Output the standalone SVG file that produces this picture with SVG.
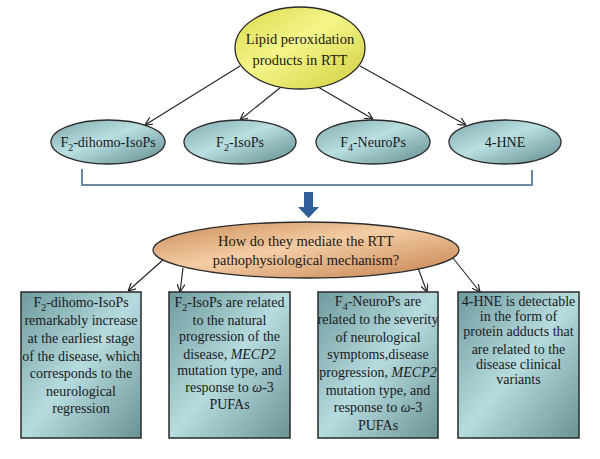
<svg xmlns="http://www.w3.org/2000/svg" width="600" height="459" viewBox="0 0 600 459">
<defs>
<linearGradient id="gTeal" x1="0" y1="0" x2="1" y2="1">
<stop offset="0" stop-color="#7ea6aa"/>
<stop offset="0.45" stop-color="#b9dfe1"/>
<stop offset="1" stop-color="#5f8a8e"/>
</linearGradient>
<linearGradient id="gBox" x1="0" y1="0" x2="1" y2="1">
<stop offset="0" stop-color="#6e9a9e"/>
<stop offset="0.5" stop-color="#b7dcdf"/>
<stop offset="1" stop-color="#6a9295"/>
</linearGradient>
<linearGradient id="gYellow" x1="0" y1="0" x2="1" y2="1">
<stop offset="0" stop-color="#d9d94c"/>
<stop offset="0.45" stop-color="#f5f58a"/>
<stop offset="1" stop-color="#cfcf3e"/>
</linearGradient>
<linearGradient id="gOrange" x1="0" y1="0" x2="1" y2="1">
<stop offset="0" stop-color="#c98a58"/>
<stop offset="0.45" stop-color="#f4cda4"/>
<stop offset="1" stop-color="#c3804e"/>
</linearGradient>
<marker id="arr" viewBox="0 0 10 10" refX="10" refY="5" markerWidth="8" markerHeight="8" orient="auto" markerUnits="userSpaceOnUse">
<path d="M0,0 L10,5 L0,10" fill="none" stroke="#222" stroke-width="1.5"/>
</marker>
</defs>
<style>
text{font-family:"Liberation Serif","Times New Roman",serif;fill:#1a1a1a;text-anchor:middle}
.e{stroke:#2a2a2a;stroke-width:1.3}
.b{fill:url(#gBox);stroke:#2a2a2a;stroke-width:1.5}
.c{fill:none;stroke:#222;stroke-width:1.1}
.t{font-size:14px}
.lab{font-size:14.5px}
.it{font-style:italic}
</style>
<rect width="600" height="459" fill="#ffffff"/>
<g id="connectors">
<line class="c" x1="240" y1="66" x2="145" y2="125" marker-end="url(#arr)"/>
<line class="c" x1="281" y1="87" x2="240" y2="120" marker-end="url(#arr)"/>
<line class="c" x1="318" y1="87" x2="373" y2="119" marker-end="url(#arr)"/>
<line class="c" x1="360" y1="66" x2="466" y2="125" marker-end="url(#arr)"/>
<polyline points="82,169 82,185 532,185 532,170" fill="none" stroke="#6d87a6" stroke-width="2"/>
<polygon points="304,192 313,192 313,207 319,207 308.5,218 298,207 304,207" fill="#2e5f99"/>
<line class="c" x1="164" y1="259" x2="128" y2="291" marker-end="url(#arr)"/>
<line class="c" x1="183" y1="268" x2="180" y2="292" marker-end="url(#arr)"/>
<line class="c" x1="418" y1="268" x2="427" y2="292" marker-end="url(#arr)"/>
<line class="c" x1="453" y1="258" x2="480" y2="292" marker-end="url(#arr)"/>
</g>
<g id="top">
<ellipse class="e" cx="300" cy="48" rx="65" ry="41" fill="url(#gYellow)"/>
<text class="lab" x="300" y="44">Lipid peroxidation</text>
<text class="lab" x="300" y="65">products in RTT</text>
</g>
<g id="n1">
<ellipse class="e" cx="108" cy="142" rx="57" ry="22" fill="url(#gTeal)"/>
<text class="t" x="108" y="147">F<tspan font-size="10" dy="4">2</tspan><tspan dy="-4">-dihomo-IsoPs</tspan></text>
</g>
<g id="n2">
<ellipse class="e" cx="240" cy="142" rx="56" ry="22" fill="url(#gTeal)"/>
<text class="t" x="240" y="147">F<tspan font-size="10" dy="4">2</tspan><tspan dy="-4">-IsoPs</tspan></text>
</g>
<g id="n3">
<ellipse class="e" cx="373" cy="142" rx="57" ry="22" fill="url(#gTeal)"/>
<text class="t" x="373" y="147">F<tspan font-size="10" dy="4">4</tspan><tspan dy="-4">-NeuroPs</tspan></text>
</g>
<g id="n4">
<ellipse class="e" cx="505" cy="142" rx="56" ry="22" fill="url(#gTeal)"/>
<text class="t" x="505" y="147">4-HNE</text>
</g>
<g id="q">
<ellipse class="e" cx="306" cy="250" rx="153" ry="28" fill="url(#gOrange)"/>
<text class="lab" x="306" y="246">How do they mediate the RTT</text>
<text class="lab" x="306" y="265">pathophysiological mechanism?</text>
</g>
<g id="b1">
<rect class="b" x="21" y="292" width="120" height="146"/>
<text class="t" x="81" y="307">F<tspan font-size="10" dy="4">2</tspan><tspan dy="-4">-dihomo-IsoPs</tspan></text>
<text class="t" x="81" y="325">remarkably increase</text>
<text class="t" x="81" y="343">at the earliest stage</text>
<text class="t" x="81" y="361">of the disease, which</text>
<text class="t" x="81" y="378">corresponds to the</text>
<text class="t" x="81" y="396">neurological</text>
<text class="t" x="81" y="413">regression</text>
</g>
<g id="b2">
<rect class="b" x="169" y="292" width="121" height="146"/>
<text class="t" x="229.5" y="307">F<tspan font-size="10" dy="4">2</tspan><tspan dy="-4">-IsoPs are related</tspan></text>
<text class="t" x="229.5" y="325">to the natural</text>
<text class="t" x="229.5" y="341">progression of the</text>
<text class="t" x="229.5" y="359">disease, <tspan class="it">MECP2</tspan></text>
<text class="t" x="229.5" y="375">mutation type, and</text>
<text class="t" x="229.5" y="392">response to <tspan class="it">ω</tspan>-3</text>
<text class="t" x="229.5" y="409">PUFAs</text>
</g>
<g id="b3">
<rect class="b" x="318" y="292" width="120" height="146"/>
<text class="t" x="378" y="306">F<tspan font-size="10" dy="4">4</tspan><tspan dy="-4">-NeuroPs are</tspan></text>
<text class="t" x="378" y="324">related to the severity</text>
<text class="t" x="378" y="342">of neurological</text>
<text class="t" x="378" y="359">symptoms,disease</text>
<text class="t" x="378" y="377">progression, <tspan class="it">MECP2</tspan></text>
<text class="t" x="378" y="395">mutation type, and</text>
<text class="t" x="378" y="412">response to <tspan class="it">ω</tspan>-3</text>
<text class="t" x="378" y="430">PUFAs</text>
</g>
<g id="b4">
<rect class="b" x="458" y="292" width="121" height="146"/>
<text class="t" x="518.5" y="306">4-HNE is detectable</text>
<text class="t" x="518.5" y="321">in the form of</text>
<text class="t" x="518.5" y="336">protein adducts that</text>
<text class="t" x="518.5" y="354">are related to the</text>
<text class="t" x="518.5" y="369">disease clinical</text>
<text class="t" x="518.5" y="384">variants</text>
</g>
</svg>
